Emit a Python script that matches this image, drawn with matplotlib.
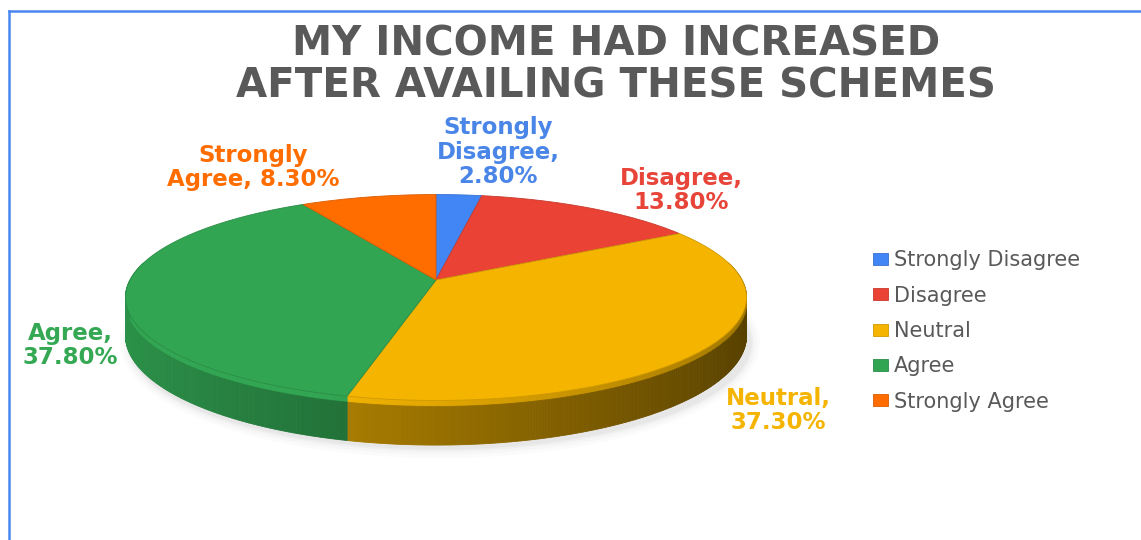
import numpy as np
import matplotlib
matplotlib.use('Agg')
import matplotlib.pyplot as plt
from matplotlib.collections import PolyCollection
from matplotlib.patches import Ellipse, Polygon
from matplotlib.lines import Line2D
import matplotlib.colors as mcolors

# ---- data ----
categories = ['Strongly Disagree', 'Disagree', 'Neutral', 'Agree', 'Strongly Agree']
values = [2.8, 13.8, 37.3, 37.8, 8.3]
colors = ['#4285F4', '#EA4335', '#F4B400', '#31A552', '#FF6D01']
label_colors = ['#4A86E8', '#E8453A', '#F4B400', '#34A853', '#FF6D01']
title_lines = ['MY INCOME HAD INCREASED', 'AFTER AVAILING THESE SCHEMES']

# ---- layout (pixels) ----
W, H = 1141, 540
CX, CY0 = 436, 280        # apex of the pie on screen
RX, RYP = 306, 100        # horizontal / vertical radius of the tilted disc
P = 0.17                  # perspective strength
DEP = 37                  # thickness of the pie at the sides

fig = plt.figure(figsize=(W / 100, H / 100), dpi=100)
fig.patch.set_facecolor('white')
ax = fig.add_axes([0, 0, 1, 1])


def project(u, v):
    s = 1.0 / (1.0 + P * v)
    return CX + RX * u * s, CY0 - RYP * v * s, s


# soft shadow under the pie
for grow, alpha in [(20, 0.025), (13, 0.035), (7, 0.05), (3, 0.06)]:
    ax.add_patch(Ellipse((CX + 4, 343), 2 * RX + 8 + grow, 210 + grow,
                         facecolor='#777777', edgecolor='none', alpha=alpha, zorder=0))

# side of the 3D pie (front half), shaded from left to right
bounds = np.cumsum([0] + values) / sum(values) * 360.0
polys, fcols = [], []
BAND = 6
for i, (a0, a1) in enumerate(zip(bounds[:-1], bounds[1:])):
    lo, hi = max(a0, 80.0), min(a1, 280.0)
    if hi <= lo:
        continue
    ts = np.radians(np.linspace(lo, hi, int((hi - lo) * 2) + 2))
    base = np.array(mcolors.to_rgb(colors[i]))
    X, Y, S = project(np.sin(ts), np.cos(ts))
    for j in range(len(ts) - 1):
        x0, y0, d0 = X[j], Y[j], DEP * S[j]
        x1, y1, d1 = X[j + 1], Y[j + 1], DEP * S[j + 1]
        u = np.sin((ts[j] + ts[j + 1]) / 2)
        shade = float(np.clip(0.62 - 0.27 * u, 0.3, 1.0))
        polys.append([(x0, y0), (x1, y1), (x1, y1 + BAND), (x0, y0 + BAND)])
        fcols.append(np.clip(base * min(1.0, shade + 0.3), 0, 1))
        polys.append([(x0, y0 + BAND), (x1, y1 + BAND), (x1, y1 + d1), (x0, y0 + d0)])
        fcols.append(np.clip(base * shade, 0, 1))
ax.add_collection(PolyCollection(polys, facecolors=fcols, edgecolors=fcols,
                                 linewidths=0.6, zorder=1))

# top surface: pie wedges from matplotlib, projected onto the tilted disc
R0 = 300.0
pie_wedges, _ = ax.pie(values, colors=colors, startangle=90, counterclock=False,
                       radius=R0, center=(0, 0))
top = []
for w, c in zip(pie_wedges, colors):
    path = w.get_patch_transform().transform_path(w.get_path())
    pts = np.vstack(path.to_polygons())
    X, Y, _s = project(pts[:, 0] / R0, pts[:, 1] / R0)
    w.remove()
    poly = Polygon(np.column_stack([X, Y]), closed=True, facecolor=c,
                   edgecolor=np.array(mcolors.to_rgb(c)) * 0.85, linewidth=0.6, zorder=2)
    ax.add_patch(poly)
    top.append(poly)

ax.set_xlim(0, W)
ax.set_ylim(H, 0)
ax.set_aspect('auto')
ax.axis('off')

# ---- data labels (y = baseline of last line) ----
label_texts = [f"Strongly\nDisagree,\n{values[0]:.2f}%",
               f"Disagree,\n{values[1]:.2f}%",
               f"Neutral,\n{values[2]:.2f}%",
               f"Agree,\n{values[3]:.2f}%",
               f"Strongly\nAgree, {values[4]:.2f}%"]
label_pos = [(498, 183), (681, 209), (778, 429), (70, 364), (253, 186)]
for txt, (lx, ly), c in zip(label_texts, label_pos, label_colors):
    fig.text(lx / W, 1 - ly / H, txt, ha='center', va='baseline', color=c,
             fontsize=16.5, fontweight='bold', family='DejaVu Sans',
             linespacing=1.07, multialignment='center')

# ---- title ----
for line, by in zip(title_lines, [56, 97]):
    fig.text(616 / W, 1 - by / H, line, ha='center', va='baseline', color='#595959',
             fontsize=29, fontweight='bold', family='DejaVu Sans')

# ---- legend ----
ax.legend(top, categories, loc='center left',
          bbox_to_anchor=(873 / W, 1 - 331 / H), bbox_transform=fig.transFigure,
          frameon=False, fontsize=15, handlelength=0.7, handleheight=0.5,
          handletextpad=0.3, labelspacing=0.74, labelcolor='#595959',
          borderpad=0, borderaxespad=0)

# ---- border ----
fig.add_artist(Line2D([9 / W, 9 / W], [0, 1 - 11 / H], transform=fig.transFigure,
                      color='#4A86F0', lw=1.8))
fig.add_artist(Line2D([9 / W, 1], [1 - 11 / H, 1 - 11 / H], transform=fig.transFigure,
                      color='#4A86F0', lw=1.8))

fig.savefig('out.png', dpi=100, facecolor='white')
